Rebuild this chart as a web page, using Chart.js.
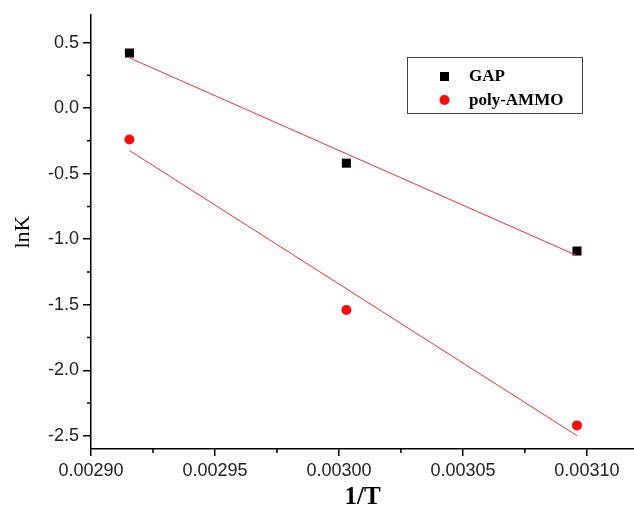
<!DOCTYPE html>
<html>
<head>
<meta charset="utf-8">
<script src="https://cdn.jsdelivr.net/npm/chart.js@4/dist/chart.umd.min.js"></script>
<style>
html, body { margin: 0; padding: 0; background: #fff; }
#wrap { width: 634px; height: 507px; }
</style>
</head>
<body>
<div id="wrap"><canvas id="c"></canvas></div>
<script>
// 1/T values and lnK
const invT = [0.0029155, 0.003003, 0.003096];
const gapLnK = [0.42, -0.42, -1.09];
const ammoLnK = [-0.24, -1.54, -2.42];
const seriesNames = ['GAP', 'poly-AMMO'];

const xTicks = [0.00290, 0.00295, 0.00300, 0.00305, 0.00310];
const xMinor = [0.002925, 0.002975, 0.003025, 0.003075];
const yTicks = [0.5, 0.0, -0.5, -1.0, -1.5, -2.0, -2.5];
const yMinor = [0.25, -0.25, -0.75, -1.25, -1.75, -2.25];

const RED = '#ff0a0a';
const LINE = '#e8323a';
const TICK_FONT = { family: '"Liberation Sans", Arial, sans-serif', size: 18 };

// least squares fit, returned at the first and last x
function fit(xs, ys) {
  const n = xs.length;
  const mx = xs.reduce((a, b) => a + b, 0) / n;
  const my = ys.reduce((a, b) => a + b, 0) / n;
  let sxy = 0, sxx = 0;
  xs.forEach((x, i) => { sxy += (x - mx) * (ys[i] - my); sxx += (x - mx) * (x - mx); });
  const k = sxy / sxx;
  return [xs[0], xs[n - 1]].map((x) => ({ x, y: my + k * (x - mx) }));
}
const pts = (ys) => invT.map((x, i) => ({ x, y: ys[i] }));

const extras = {
  id: 'extras',
  afterDraw(chart) {
    const ctx = chart.ctx, xs = chart.scales.x, ys = chart.scales.y;
    ctx.save();
    ctx.strokeStyle = '#000';
    ctx.lineWidth = 1.5;
    ctx.beginPath();
    xMinor.forEach((v) => {
      const p = xs.getPixelForValue(v);
      ctx.moveTo(p, xs.top); ctx.lineTo(p, xs.top + 4);
    });
    yMinor.forEach((v) => {
      const p = ys.getPixelForValue(v);
      ctx.moveTo(ys.right, p); ctx.lineTo(ys.right - 4, p);
    });
    ctx.stroke();

    // legend box
    const bx = 407, by = 57, bw = 175, bh = 56;
    ctx.strokeStyle = '#444';
    ctx.lineWidth = 1;
    ctx.strokeRect(bx + 0.5, by + 0.5, bw, bh);
    ctx.fillStyle = '#000';
    ctx.fillRect(440, 72, 9, 9);
    ctx.fillStyle = RED;
    ctx.beginPath();
    ctx.arc(444.5, 100, 5, 0, Math.PI * 2);
    ctx.fill();
    ctx.fillStyle = '#000';
    ctx.font = 'bold 17px "Liberation Serif", serif';
    ctx.textBaseline = 'middle';
    ctx.fillText(seriesNames[0], 469, 77);
    ctx.fillText(seriesNames[1], 469, 101);
    ctx.restore();
  },
};

new Chart(document.getElementById('c'), {
  type: 'scatter',
  data: {
    datasets: [
      { label: seriesNames[0] + ' fit', data: fit(invT, gapLnK), showLine: true, borderColor: LINE, borderWidth: 1, pointRadius: 0 },
      { label: seriesNames[1] + ' fit', data: fit(invT, ammoLnK), showLine: true, borderColor: LINE, borderWidth: 1, pointRadius: 0 },
      { label: seriesNames[0], data: pts(gapLnK), pointStyle: 'rect', pointRadius: 6.4, backgroundColor: '#000', borderColor: '#000', borderWidth: 0 },
      { label: seriesNames[1], data: pts(ammoLnK), pointStyle: 'circle', pointRadius: 5, backgroundColor: RED, borderColor: RED, borderWidth: 0 },
    ],
  },
  options: {
    responsive: true,
    maintainAspectRatio: false,
    animation: false,
    layout: { autoPadding: false, padding: { top: 15, right: 0, left: 0, bottom: 0 } },
    plugins: { legend: { display: false }, tooltip: { enabled: false } },
    scales: {
      x: {
        type: 'linear',
        min: 0.0029,
        max: 0.003119,
        afterBuildTicks: (s) => { s.ticks = xTicks.map((v) => ({ value: v })); },
        afterFit: (s) => { s.height = 58; },
        grid: { drawOnChartArea: false, drawTicks: true, tickLength: 7, color: '#000', lineWidth: 1.5 },
        border: { display: true, color: '#000', width: 1.5 },
        ticks: { color: '#222', padding: 4, maxRotation: 0, font: TICK_FONT, callback: (v) => v.toFixed(5) },
        title: { display: true, text: '1/T', color: '#000', padding: { top: 0, bottom: -6 }, font: { family: '"Liberation Serif", serif', size: 25, weight: 'bold' } },
      },
      y: {
        type: 'linear',
        min: -2.6,
        max: 0.71,
        afterBuildTicks: (s) => { s.ticks = yTicks.map((v) => ({ value: v })); },
        afterFit: (s) => { s.width = 91; },
        grid: { drawOnChartArea: false, drawTicks: true, tickLength: 8, color: '#000', lineWidth: 1.5 },
        border: { display: true, color: '#000', width: 1.5 },
        ticks: { color: '#222', padding: 4, font: TICK_FONT, callback: (v) => v.toFixed(1) },
        title: { display: true, text: 'lnK', color: '#000', padding: { top: 10, bottom: 0 }, font: { family: '"Liberation Serif", serif', size: 22 } },
      },
    },
  },
  plugins: [extras],
});
</script>
</body>
</html>
